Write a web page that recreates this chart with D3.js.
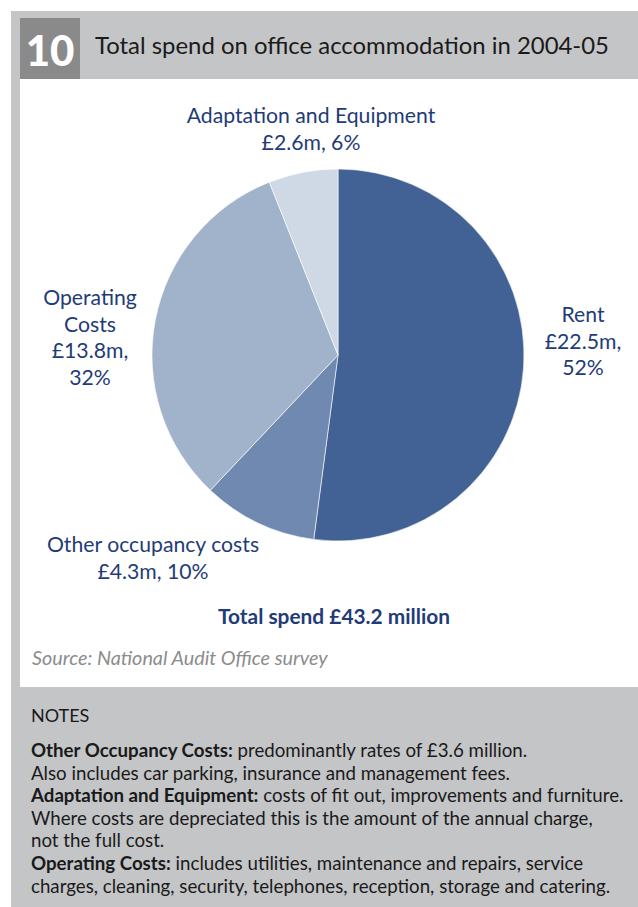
<!DOCTYPE html>
<html>
<head>
<meta charset="utf-8">
<script src="https://cdn.jsdelivr.net/npm/d3@7"></script>
<style>
  html, body { margin: 0; padding: 0; background: #ffffff; }
  svg { display: block; }
  text { font-family: Lato, "Open Sans", sans-serif; }
</style>
</head>
<body>
<svg id="chart" width="638" height="907"></svg>
<script>
// Office accommodation spend, 2004-05 (£ million)
const categories = ["Rent", "Other occupancy costs", "Operating Costs", "Adaptation and Equipment"];
const spend = [22.5, 4.3, 13.8, 2.6];
const sliceColors = ["#426295", "#7089b0", "#a1b2cb", "#cfd9e5"];

// How each category label wraps
const nameLines = [["Rent"], ["Other occupancy costs"], ["Operating", "Costs"], ["Adaptation and Equipment"]];
const splitValue = [true, false, true, false];

const figureNumber = "10";
const title = "Total spend on office accommodation in 2004-05";
const source = "Source: National Audit Office survey";

const notes = [
  [["Other Occupancy Costs:", true], [" predominantly rates of £3.6 million.", false]],
  [["Also includes car parking, insurance and management fees.", false]],
  [["Adaptation and Equipment:", true], [" costs of fit out, improvements and furniture.", false]],
  [["Where costs are depreciated this is the amount of the annual charge,", false]],
  [["not the full cost.", false]],
  [["Operating Costs:", true], [" includes utilities, maintenance and repairs, service", false]],
  [["charges, cleaning, security, telephones, reception, storage and catering.", false]]
];

const svg = d3.select("#chart");
const W = 638, H = 907;
const textBlue = "#1f3c78";

// Frame: grey surround, white chart panel, figure number box
svg.append("rect").attr("x", 11).attr("y", 11).attr("width", W - 11).attr("height", H - 11).attr("fill", "#c4c5c7");
svg.append("rect").attr("x", 20).attr("y", 79).attr("width", W - 20).attr("height", 608).attr("fill", "#ffffff");
svg.append("rect").attr("x", 20).attr("y", 18).attr("width", 60).attr("height", 61).attr("fill", "#8a8a8b");

svg.append("text").attr("x", 50).attr("y", 66).attr("text-anchor", "middle")
  .attr("font-size", 42).attr("font-weight", 900).attr("fill", "#ffffff").text(figureNumber);
svg.append("text").attr("x", 95).attr("y", 54)
  .attr("font-size", 23.9).attr("fill", "#1a1a1a").text(title);

// Pie
const cx = 338, cy = 355, radius = 186;
const total = d3.sum(spend);
const pie = d3.pie().sort(null).value(d => d)(spend);
const arc = d3.arc().innerRadius(0).outerRadius(radius);

const g = svg.append("g").attr("transform", `translate(${cx},${cy})`);
g.selectAll("path").data(pie).join("path")
  .attr("d", arc)
  .attr("fill", (d, i) => sliceColors[i])
  .attr("stroke", "#ffffff").attr("stroke-width", 0.6);

// Category labels, positioned around the pie
const labelAnchor = [
  { x: 583, y: 322 },
  { x: 153, y: 552 },
  { x: 90, y: 305 },
  { x: 311, y: 123 }
];
const lineGap = 26.5;
const fmtM = v => "£" + v.toFixed(1) + "m";
pie.forEach((d, i) => {
  const pct = Math.round(d.value / total * 100) + "%";
  const lines = nameLines[i].slice();
  if (splitValue[i]) { lines.push(fmtM(d.value) + ","); lines.push(pct); }
  else lines.push(fmtM(d.value) + ", " + pct);
  const t = svg.append("text").attr("text-anchor", "middle")
    .attr("font-size", 21.2).attr("fill", textBlue);
  lines.forEach((l, k) => {
    t.append("tspan").attr("x", labelAnchor[i].x).attr("y", labelAnchor[i].y + k * lineGap).text(l);
  });
});

svg.append("text").attr("x", 334).attr("y", 624).attr("text-anchor", "middle")
  .attr("font-size", 21).attr("font-weight", 700).attr("fill", textBlue)
  .attr("textLength", 232).attr("lengthAdjust", "spacingAndGlyphs")
  .text("Total spend £" + total.toFixed(1) + " million");

svg.append("text").attr("x", 32).attr("y", 665)
  .attr("font-size", 19.8).attr("font-style", "italic").attr("fill", "#8c8c8c").text(source);

// Notes
svg.append("text").attr("x", 31).attr("y", 722).attr("font-size", 18).attr("fill", "#1a1a1a").text("NOTES");
notes.forEach((row, r) => {
  const t = svg.append("text").attr("x", 31).attr("y", 757 + r * 22.6)
    .attr("font-size", 18.7).attr("fill", "#1a1a1a");
  row.forEach(([s, bold]) => {
    t.append("tspan").attr("font-weight", bold ? 700 : 400).text(s);
  });
});
</script>
</body>
</html>
